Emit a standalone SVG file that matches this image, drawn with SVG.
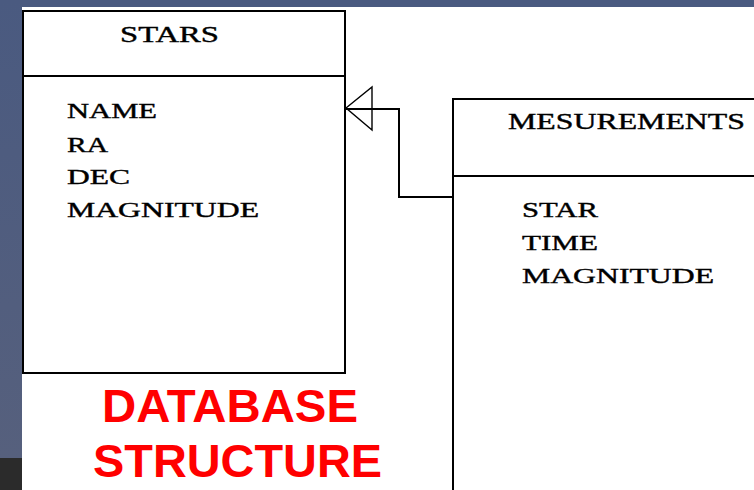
<svg xmlns="http://www.w3.org/2000/svg" width="754" height="490" viewBox="0 0 754 490">
  <defs>
    <linearGradient id="sideBand" x1="0" y1="0" x2="0" y2="1">
      <stop offset="0" stop-color="#4a5a80"/>
      <stop offset="1" stop-color="#56607d"/>
    </linearGradient>
  </defs>
  <style>
    .box { fill: #ffffff; stroke: #000000; stroke-width: 2; }
    .rule { stroke: #000000; stroke-width: 2; fill: none; }
    .title { font-family: "Liberation Serif", "DejaVu Serif", serif; font-size: 23px; fill: #000000; stroke: #000000; stroke-width: 0.4; }
    .field { font-family: "Liberation Serif", "DejaVu Serif", serif; font-size: 22px; fill: #000000; stroke: #000000; stroke-width: 0.4; }
    .caption { font-family: "Liberation Sans", Arial, sans-serif; font-size: 46px; font-weight: bold; fill: #ff0000; }
    .link { stroke: #000000; stroke-width: 2; fill: none; }
    .head { stroke: #000000; stroke-width: 1.4; fill: none; }
  </style>

  <!-- slide background -->
  <rect x="0" y="0" width="754" height="490" fill="#ffffff"/>
  <rect x="0" y="0" width="754" height="7" fill="#4a5a80"/>
  <rect x="0" y="0" width="22" height="458" fill="url(#sideBand)"/>
  <rect x="0" y="458" width="22" height="32" fill="#2b2b2b"/>

  <!-- STARS table -->
  <g id="stars">
    <rect class="box" x="23" y="11" width="322" height="362"/>
    <line class="rule" x1="23" y1="76" x2="345" y2="76"/>
    <text class="title" x="120" y="42" textLength="99" lengthAdjust="spacingAndGlyphs">STARS</text>
    <text class="field" x="67" y="118" textLength="90" lengthAdjust="spacingAndGlyphs">NAME</text>
    <text class="field" x="67" y="152" textLength="41" lengthAdjust="spacingAndGlyphs">RA</text>
    <text class="field" x="67" y="184" textLength="63" lengthAdjust="spacingAndGlyphs">DEC</text>
    <text class="field" x="67" y="217" textLength="192" lengthAdjust="spacingAndGlyphs">MAGNITUDE</text>
  </g>

  <!-- MESUREMENTS table (runs past the right and bottom edges) -->
  <g id="mesurements">
    <rect class="box" x="453" y="99" width="320" height="410"/>
    <line class="rule" x1="453" y1="176" x2="754" y2="176"/>
    <text class="title" x="508" y="129" textLength="237" lengthAdjust="spacingAndGlyphs">MESUREMENTS</text>
    <text class="field" x="522" y="217" textLength="76" lengthAdjust="spacingAndGlyphs">STAR</text>
    <text class="field" x="522" y="250" textLength="76" lengthAdjust="spacingAndGlyphs">TIME</text>
    <text class="field" x="522" y="283" textLength="192" lengthAdjust="spacingAndGlyphs">MAGNITUDE</text>
  </g>

  <!-- connectors -->
  <g id="connectors">
    <polyline class="link" points="453,197 399,197 399,109 346,109"/>
    <polygon class="head" points="346,108 372,87 372,130"/>
  </g>

  <!-- caption -->
  <g id="caption">
    <text class="caption" x="102" y="422" textLength="256" lengthAdjust="spacingAndGlyphs">DATABASE</text>
    <text class="caption" x="93" y="477" textLength="289" lengthAdjust="spacingAndGlyphs">STRUCTURE</text>
  </g>
</svg>
